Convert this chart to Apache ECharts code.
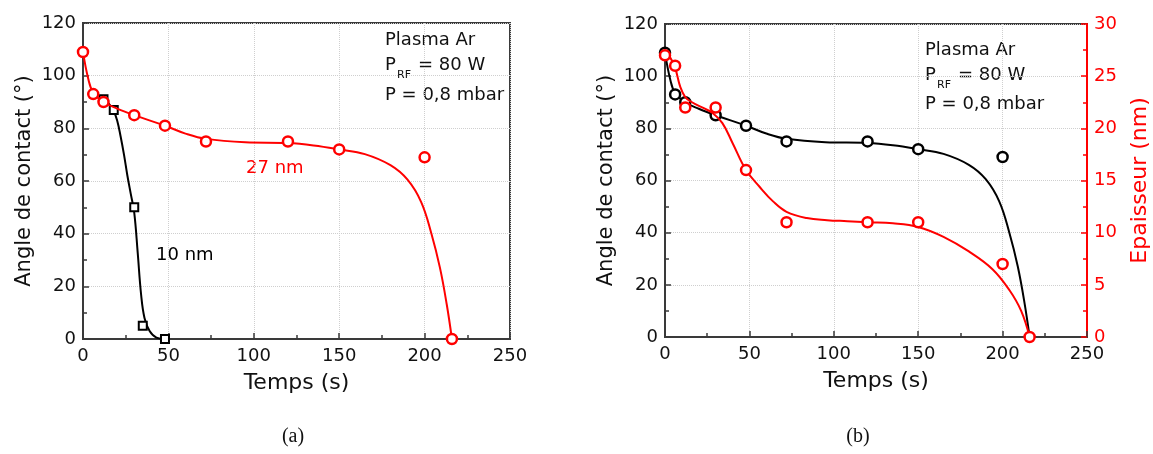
<!DOCTYPE html>
<html>
<head>
<meta charset="utf-8">
<script src="https://cdn.jsdelivr.net/npm/echarts@6/dist/echarts.min.js"></script>
<style>
  html, body { margin: 0; padding: 0; background: #fff; }
  #chart { width: 1153px; height: 454px; }
</style>
</head>
<body>
<div id="chart"></div>
<script>
  // measured points
  const timeAll = [0, 6, 12, 30, 48, 72, 120, 150, 200, 216]
  const angle27 = [109, 93, 90, 85, 81, 75, 75, 72, 69, 0]
  const time10 = [12, 18, 30, 35, 48]
  const angle10 = [91, 87, 50, 5, 0]
  const thickness = [27, 26, 22, 22, 16, 11, 11, 11, 7, 0]

  // fitted curves
  const fitTime27 = [0, 3, 6, 12, 20, 30, 48, 60, 72, 95, 120, 135, 150, 165, 180, 190, 198, 204, 209, 213, 216]
  const fitAngle27 = [109, 99, 93.5, 90, 87.5, 85, 81, 78, 76, 74.7, 74.4, 73.5, 72, 70.2, 66, 60.5, 52, 40, 27, 13, 0]
  const fitTime10 = [12, 15, 18, 20, 22, 24, 26, 28, 30, 32, 34, 36, 39, 43, 48]
  const fitAngle10 = [91, 89.5, 86.5, 83, 77, 70, 62, 55, 48, 33, 17, 8, 3, 0.5, 0]
  const fitTimeTh = [0, 3, 6, 9, 12, 16, 22, 28, 34, 40, 48, 56, 64, 72, 84, 96, 108, 120, 135, 150, 165, 180, 194, 204, 211, 216]
  const fitThick = [27.2, 26.8, 25.8, 24, 23, 22.5, 22, 21.5, 20.5, 18.6, 16, 14.4, 13, 12, 11.4, 11.2, 11.1, 11, 10.9, 10.55, 9.6, 8.2, 6.5, 4.5, 2.5, 0]

  const xTicks = { min: 0, max: 250, interval: 50 }
  const yTicks = { min: 0, max: 120, interval: 20 }
  const thTicks = { min: 0, max: 30, interval: 5 }

  const zip = (xs, ys) => xs.map((x, i) => [x, ys[i]])

  const FONT = 'DejaVu Sans'
  const RED = '#ff0000'
  const AX = '#3a3a3a'
  const GRIDC = '#cfcfcf'

  let chart = echarts.init(document.getElementById('chart'))

  const xAxisDef = (gi) => ({
    gridIndex: gi, type: 'value', ...xTicks,
    name: 'Temps (s)', nameLocation: 'middle', nameGap: 33,
    nameTextStyle: { fontFamily: FONT, fontSize: 22, color: '#111' },
    axisLine: { show: true, lineStyle: { color: AX, width: 2 } },
    axisTick: { show: true, inside: true, length: 6, lineStyle: { color: AX, width: 1.5 } },
    minorTick: { show: true, splitNumber: 2, length: 4, lineStyle: { color: AX, width: 1.5 } },
    axisLabel: { fontFamily: FONT, fontSize: 18, color: '#111', margin: 8 },
    splitLine: { show: true, lineStyle: { color: GRIDC, type: 'dotted', width: 1 } }
  })

  const yAxisDef = (gi) => ({
    gridIndex: gi, type: 'value', position: 'left', ...yTicks,
    name: 'Angle de contact (°)', nameLocation: 'middle', nameGap: 48, nameRotate: 90,
    nameTextStyle: { fontFamily: FONT, fontSize: 21, color: '#111' },
    axisLine: { show: true, lineStyle: { color: AX, width: 2 } },
    axisTick: { show: true, inside: true, length: 6, lineStyle: { color: AX, width: 1.5 } },
    minorTick: { show: true, splitNumber: 2, length: 4, lineStyle: { color: AX, width: 1.5 } },
    axisLabel: { fontFamily: FONT, fontSize: 18, color: '#111', margin: 7 },
    splitLine: { show: true, lineStyle: { color: GRIDC, type: 'dotted', width: 1 } }
  })

  const circle = (color) => ({
    symbol: 'circle', symbolSize: 10,
    itemStyle: { color: '#fff', borderColor: color, borderWidth: 2.5, opacity: 1 }
  })

  const fitLine = (color) => ({
    type: 'line', smooth: 0.4, showSymbol: false, symbol: 'none',
    lineStyle: { color: color, width: 2 }, silent: true
  })

  const txt = (text, x, y, size, color, family) => ({
    type: 'text', x: x, y: y, silent: true,
    style: { text: text, fontFamily: family || FONT, fontSize: size, fill: color || '#111', verticalAlign: 'middle' }
  })

  const option = {
    animation: false,
    backgroundColor: '#fff',
    grid: [
      { left: 83, top: 23, width: 427, height: 316, show: true, borderColor: AX, borderWidth: 2, outerBoundsMode: 'none' },
      { left: 665, top: 24, width: 422, height: 313, show: true, borderColor: AX, borderWidth: 2, outerBoundsMode: 'none' }
    ],
    xAxis: [xAxisDef(0), xAxisDef(1)],
    yAxis: [
      yAxisDef(0),
      yAxisDef(1),
      {
        gridIndex: 1, type: 'value', position: 'right', ...thTicks,
        name: 'Epaisseur (nm)', nameLocation: 'middle', nameGap: 42, nameRotate: 90,
        nameTextStyle: { fontFamily: FONT, fontSize: 22, color: RED },
        axisLine: { show: true, lineStyle: { color: RED, width: 2 } },
        axisTick: { show: true, inside: true, length: 6, lineStyle: { color: RED, width: 1.5 } },
        minorTick: { show: true, splitNumber: 2, length: 4, lineStyle: { color: RED, width: 1.5 } },
        axisLabel: { fontFamily: FONT, fontSize: 18, color: RED, margin: 7 },
        splitLine: { show: false }
      }
    ],
    series: [
      // (a) 10 nm
      { ...fitLine('#000'), xAxisIndex: 0, yAxisIndex: 0, data: zip(fitTime10, fitAngle10), z: 2 },
      {
        type: 'scatter', xAxisIndex: 0, yAxisIndex: 0, data: zip(time10, angle10), z: 3,
        symbol: 'rect', symbolSize: 8,
        itemStyle: { color: '#fff', borderColor: '#000', borderWidth: 2, opacity: 1 }
      },
      // (a) 27 nm
      { ...fitLine(RED), xAxisIndex: 0, yAxisIndex: 0, data: zip(fitTime27, fitAngle27), z: 4 },
      { type: 'scatter', xAxisIndex: 0, yAxisIndex: 0, data: zip(timeAll, angle27), z: 5, ...circle(RED) },
      // (b) angle
      { ...fitLine('#000'), xAxisIndex: 1, yAxisIndex: 1, data: zip(fitTime27, fitAngle27), z: 2 },
      { type: 'scatter', xAxisIndex: 1, yAxisIndex: 1, data: zip(timeAll.slice(0, 9), angle27.slice(0, 9)), z: 3, ...circle('#000') },
      // (b) thickness
      { ...fitLine(RED), xAxisIndex: 1, yAxisIndex: 2, data: zip(fitTimeTh, fitThick), z: 4 },
      { type: 'scatter', xAxisIndex: 1, yAxisIndex: 2, data: zip(timeAll, thickness), z: 5, ...circle(RED) }
    ],
    graphic: [
      txt('Plasma Ar', 385, 40, 18),
      txt('P', 385, 65, 18),
      txt('RF', 397, 75, 11),
      txt('= 80 W', 418, 65, 18),
      txt('P = 0,8 mbar', 385, 95, 18),
      txt('27 nm', 246, 168, 18, RED),
      txt('10 nm', 156, 255, 18, '#000'),
      txt('Plasma Ar', 925, 50, 18),
      txt('P', 925, 75, 18),
      txt('RF', 937, 85, 11),
      txt('= 80 W', 958, 75, 18),
      txt('P = 0,8 mbar', 925, 104, 18),
      { type: 'text', x: 293, y: 437, silent: true,
        style: { text: '(a)', fontFamily: 'Liberation Serif', fontSize: 20, fill: '#111', align: 'center', verticalAlign: 'middle' } },
      { type: 'text', x: 858, y: 437, silent: true,
        style: { text: '(b)', fontFamily: 'Liberation Serif', fontSize: 20, fill: '#111', align: 'center', verticalAlign: 'middle' } }
    ]
  }

  chart.setOption(option)
  window.addEventListener('resize', function () {
    chart.resize()
  })
</script>
</body>
</html>
